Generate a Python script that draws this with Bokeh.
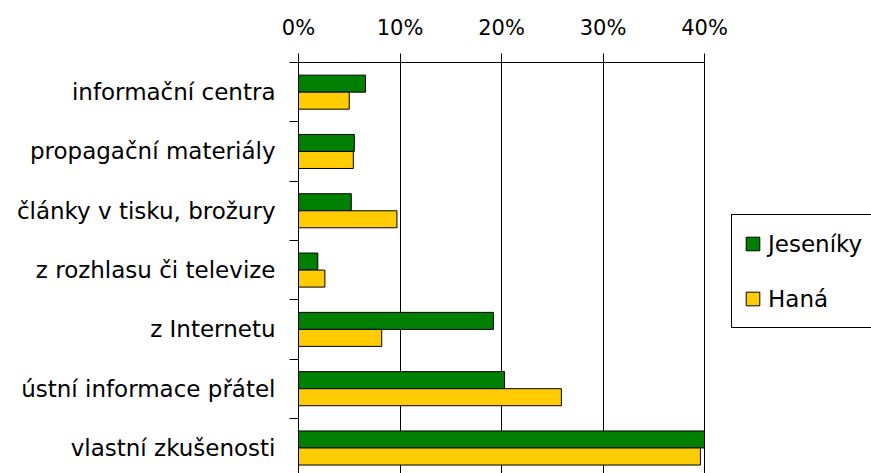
from bokeh.plotting import figure
from bokeh.models import (Range1d, FixedTicker, NumeralTickFormatter, Legend,
                          LegendItem, ColumnDataSource)
from bokeh.transform import dodge
from bokeh.embed import file_html
from bokeh.resources import INLINE

categories = ["informační centra", "propagační materiály", "články v tisku, brožury",
              "z rozhlasu či televize", "z Internetu", "ústní informace přátel",
              "vlastní zkušenosti"]
jeseniky = [0.066, 0.055, 0.052, 0.019, 0.192, 0.203, 0.400]
hana = [0.050, 0.054, 0.097, 0.026, 0.082, 0.259, 0.396]
x_ticks = [0.0, 0.1, 0.2, 0.3, 0.4]
series_names = ["Jeseníky", "Haná"]

FONT = "DejaVu Sans"
idx = list(range(len(categories)))
src = ColumnDataSource(dict(idx=idx, jes=jeseniky, hana=hana))

# frame spans to the right edge so the legend can sit beside the 0-40 % area
x_end = 0.4 * 573 / 406
p = figure(width=871, height=473, x_range=Range1d(0, x_end),
           y_range=Range1d(6.43, -0.5), x_axis_location="above",
           toolbar_location=None, output_backend="svg",
           min_border_left=298, min_border_top=62, min_border_bottom=0,
           min_border_right=0)
p.outline_line_color = None
p.background_fill_color = "white"
p.border_fill_color = "white"

bh = 0.287
r1 = p.hbar(y=dodge("idx", -bh / 2), right="jes", left=0, height=bh, source=src,
            fill_color="#008000", line_color="black", line_width=1)
r2 = p.hbar(y=dodge("idx", bh / 2), right="hana", left=0, height=bh, source=src,
            fill_color="#FFCC00", line_color="black", line_width=1)

# x axis (top)
xa = p.xaxis[0]
xa.ticker = FixedTicker(ticks=x_ticks)
xa.formatter = NumeralTickFormatter(format="0%")
xa.bounds = (0, 0.4)
xa.major_label_text_font = FONT
xa.major_label_text_font_size = "21px"
xa.major_label_text_color = "black"
xa.major_tick_out = 9
xa.major_tick_in = 0
xa.minor_tick_line_color = None
xa.axis_line_color = "black"
xa.major_tick_line_color = "black"
xa.major_label_standoff = 14

# y axis (left)
ya = p.yaxis[0]
ya.ticker = FixedTicker(ticks=idx, minor_ticks=[i - 0.5 for i in idx])
ya.major_label_overrides = {i: c for i, c in zip(idx, categories)}
ya.major_label_text_font = FONT
ya.major_label_text_font_size = "23px"
ya.major_label_text_color = "black"
ya.major_tick_line_color = None
ya.major_tick_out = 0
ya.major_tick_in = 0
ya.minor_tick_line_color = "black"
ya.minor_tick_out = 9
ya.minor_tick_in = 0
ya.axis_line_color = "black"
ya.major_label_standoff = 14

p.xgrid.ticker = FixedTicker(ticks=x_ticks)
p.xgrid.grid_line_color = "black"
p.xgrid.grid_line_width = 1
p.ygrid.grid_line_color = None

legend = Legend(items=[LegendItem(label=series_names[0], renderers=[r1]),
                       LegendItem(label=series_names[1], renderers=[r2])],
                location=(433, 145), orientation="vertical")
legend.label_text_font = FONT
legend.label_text_font_size = "23px"
legend.label_text_color = "black"
legend.glyph_width = 17
legend.glyph_height = 17
legend.label_height = 33
legend.label_standoff = 7
legend.padding = 12
legend.spacing = 22
legend.margin = 0
legend.border_line_color = "black"
legend.border_line_alpha = 1
legend.border_line_width = 1
legend.background_fill_color = "white"
legend.background_fill_alpha = 1
p.add_layout(legend, "center")

open("out.html", "w").write(file_html(p, INLINE))
